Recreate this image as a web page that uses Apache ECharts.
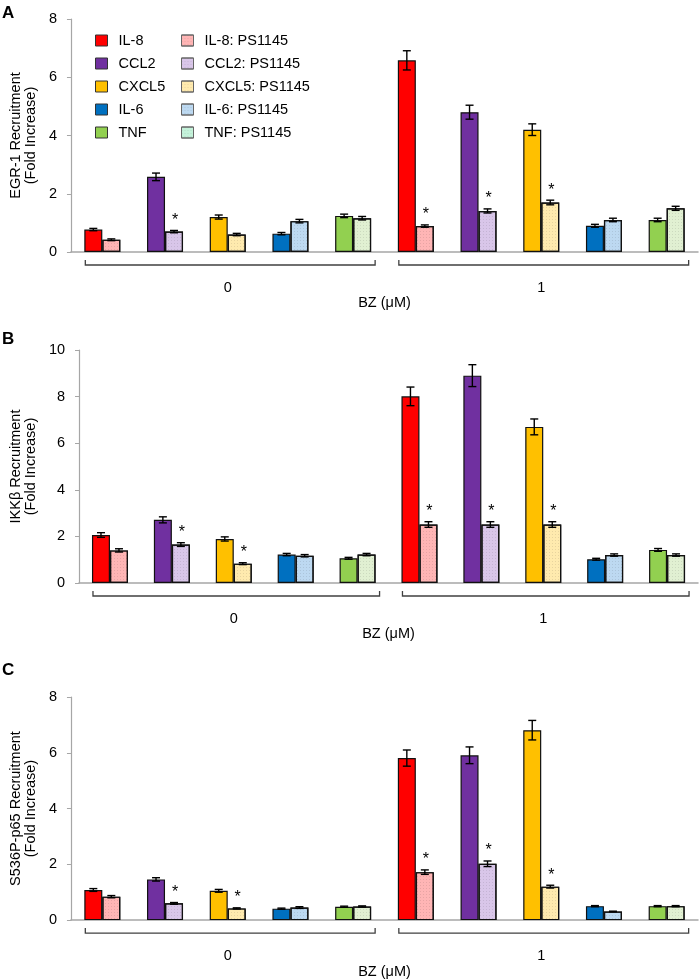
<!DOCTYPE html>
<html><head><meta charset="utf-8">
<script src="https://cdn.jsdelivr.net/npm/echarts@6/dist/echarts.min.js"></script>
<style>html,body{margin:0;padding:0;background:#fff}#c{width:700px;height:980px}</style>
</head><body><div id="c"></div>
<script>
// ---------- data ----------
const genes = ['IL-8', 'CCL2', 'CXCL5', 'IL-6', 'TNF'];
const psNames = ['IL-8: PS1145', 'CCL2: PS1145', 'CXCL5: PS1145', 'IL-6: PS1145', 'TNF: PS1145'];
const doses = ['0', '1'];
const doseAxisName = 'BZ (μM)';
const panelLetters = ['A', 'B', 'C'];
const yTitles = ['EGR-1 Recruitment\n(Fold Increase)', 'IKKβ Recruitment\n(Fold Increase)', 'S536P-p65 Recruitment\n(Fold Increase)'];
const yMax = [8, 10, 8];
const yInterval = [2, 2, 2];

// values ordered: dose 0 (IL-8, CCL2, CXCL5, IL-6, TNF), dose 1 (IL-8, CCL2, CXCL5, IL-6, TNF)
const egr1Ctrl    = [0.77, 2.58, 1.20, 0.63, 1.24, 6.58, 4.80, 4.20, 0.90, 1.10];
const egr1CtrlErr = [0.04, 0.13, 0.07, 0.04, 0.06, 0.33, 0.24, 0.20, 0.05, 0.06];
const egr1PS      = [0.42, 0.70, 0.60, 1.06, 1.16, 0.89, 1.41, 1.70, 1.10, 1.50];
const egr1PSErr   = [0.03, 0.04, 0.04, 0.06, 0.06, 0.04, 0.07, 0.08, 0.06, 0.07];
const egr1Stars   = [1, 5, 6, 7];

const ikkCtrl     = [2.06, 2.71, 1.89, 1.22, 1.06, 8.01, 8.90, 6.70, 1.02, 1.42];
const ikkCtrlErr  = [0.10, 0.13, 0.09, 0.05, 0.04, 0.40, 0.47, 0.34, 0.04, 0.06];
const ikkPS       = [1.40, 1.65, 0.83, 1.17, 1.22, 2.51, 2.51, 2.51, 1.20, 1.20];
const ikkPSErr    = [0.07, 0.08, 0.04, 0.05, 0.05, 0.12, 0.12, 0.12, 0.05, 0.05];
const ikkStars    = [1, 2, 5, 6, 7];

const p65Ctrl     = [1.08, 1.46, 1.05, 0.41, 0.48, 5.81, 5.91, 6.81, 0.50, 0.50];
const p65CtrlErr  = [0.05, 0.06, 0.05, 0.02, 0.02, 0.29, 0.30, 0.35, 0.02, 0.02];
const p65PS       = [0.84, 0.60, 0.42, 0.45, 0.49, 1.72, 2.02, 1.20, 0.31, 0.50];
const p65PSErr    = [0.04, 0.03, 0.02, 0.03, 0.02, 0.08, 0.10, 0.05, 0.01, 0.02];
const p65Stars    = [1, 2, 5, 6, 7];

const panels = [
  { ctrl: egr1Ctrl, ctrlErr: egr1CtrlErr, ps: egr1PS, psErr: egr1PSErr, stars: egr1Stars },
  { ctrl: ikkCtrl,  ctrlErr: ikkCtrlErr,  ps: ikkPS,  psErr: ikkPSErr,  stars: ikkStars },
  { ctrl: p65Ctrl,  ctrlErr: p65CtrlErr,  ps: p65PS,  psErr: p65PSErr,  stars: p65Stars }
];

// ---------- style ----------
const solidColors = ['#FF0000', '#7030A0', '#FFC000', '#0070C0', '#92D050'];
const lightColors = ['#FFB5B5', '#D9C6E9', '#FFEAAE', '#BDD9F1', '#E1F0D2'];
const legendLightColors = ['#FFB5B5', '#D9C6E9', '#FFEAAE', '#BDD9F1', '#C4F2DA'];
const FONT = '"Liberation Sans", Arial, sans-serif';
const BAR_W = 18;
const gridTops = [19, 350, 697];
const GRID_H = 233;

const cats = [];
doses.forEach(d => genes.forEach(g => cats.push(d + '|' + g)));

const decal = { symbol: 'rect', symbolSize: 1, dashArrayX: [1, 2], dashArrayY: [1, 2], color: 'rgba(0,0,0,0.09)' };

function renderErr(params, api) {
  const x = api.value(0), v = api.value(1), e = api.value(2), side = api.value(3), star = api.value(4);
  const c = api.coord([x, v]);
  const hi = api.coord([x, v + e]);
  const lo = api.coord([x, v - e]);
  const px = c[0] + side * BAR_W / 2;
  const cap = 4;
  const st = { stroke: '#000', lineWidth: 1.4 };
  const children = [
    { type: 'line', shape: { x1: px, y1: hi[1], x2: px, y2: lo[1] }, style: st },
    { type: 'line', shape: { x1: px - cap, y1: hi[1], x2: px + cap, y2: hi[1] }, style: st },
    { type: 'line', shape: { x1: px - cap, y1: lo[1], x2: px + cap, y2: lo[1] }, style: st }
  ];
  if (star) {
    children.push({ type: 'text', x: px + 1, y: hi[1] - 2,
      style: { text: '*', fill: '#000', font: '16px ' + FONT, align: 'center', verticalAlign: 'bottom' } });
  }
  return { type: 'group', children };
}

function renderBracket(params, api) {
  const a = api.coord([api.value(0), 0]);
  const b = api.coord([api.value(1), 0]);
  const y = a[1] + 13;
  const x1 = a[0] - 17, x2 = b[0] + 22;
  return { type: 'polyline', shape: { points: [[x1, y - 5], [x1, y], [x2, y], [x2, y - 5]] },
    style: { stroke: '#404040', lineWidth: 1.3, fill: null } };
}

const grid = [], xAxis = [], yAxis = [], series = [], graphic = [];
panels.forEach((p, gi) => {
  grid.push({ left: 70, right: 2, top: gridTops[gi], height: GRID_H });
  xAxis.push({ type: 'category', gridIndex: gi, data: cats, axisLine: { lineStyle: { color: '#a6a6a6', width: 1.5 } },
    axisTick: { show: false }, axisLabel: { show: false } });
  xAxis.push({ type: 'category', gridIndex: gi, data: doses, position: 'bottom', axisLine: { show: false },
    axisTick: { show: false }, axisLabel: { margin: 28, fontSize: 14.5, color: '#000', fontFamily: FONT },
    name: doseAxisName, nameLocation: 'middle', nameGap: 37, nameTextStyle: { fontSize: 14.5, color: '#000', fontFamily: FONT } });
  yAxis.push({ type: 'value', gridIndex: gi, min: 0, max: yMax[gi], interval: yInterval[gi],
    axisLine: { show: true, lineStyle: { color: '#a6a6a6', width: 1.2 } },
    axisTick: { show: true, length: 4, lineStyle: { color: '#a6a6a6' } },
    splitLine: { show: false },
    axisLabel: { fontSize: 14.5, color: '#000', margin: 14, fontFamily: FONT },
    name: yTitles[gi], nameLocation: 'middle', nameGap: 31,
    nameTextStyle: { fontSize: 14.5, color: '#000', lineHeight: 15, fontFamily: FONT } });

  genes.forEach((g, k) => {
    const d = cats.map(() => '-');
    doses.forEach((_, di) => { d[di * 5 + k] = p.ctrl[di * 5 + k]; });
    series.push({ type: 'bar', name: g, xAxisIndex: gi * 2, yAxisIndex: gi, stack: 'ctrl' + gi,
      barWidth: BAR_W, barGap: '0%', data: d,
      itemStyle: { color: solidColors[k], borderColor: '#111', borderWidth: 1.2 } });
  });
  psNames.forEach((g, k) => {
    const d = cats.map(() => '-');
    doses.forEach((_, di) => { d[di * 5 + k] = p.ps[di * 5 + k]; });
    series.push({ type: 'bar', name: g, xAxisIndex: gi * 2, yAxisIndex: gi, stack: 'ps' + gi,
      barWidth: BAR_W, barGap: '0%', data: d,
      itemStyle: { color: lightColors[k], borderColor: '#111', borderWidth: 1.2, decal: decal } });
  });
  const errData = [];
  cats.forEach((c, i) => {
    errData.push([i, p.ctrl[i], p.ctrlErr[i], -1, 0]);
    errData.push([i, p.ps[i], p.psErr[i], 1, p.stars.indexOf(i) >= 0 ? 1 : 0]);
  });
  series.push({ type: 'custom', name: 'err' + gi, xAxisIndex: gi * 2, yAxisIndex: gi, renderItem: renderErr,
    encode: { x: 0, y: 1 }, data: errData, z: 5, silent: true });
  series.push({ type: 'custom', name: 'bracket' + gi, xAxisIndex: gi * 2, yAxisIndex: gi, renderItem: renderBracket,
    encode: { x: [0, 1], y: 2 }, data: [[0, 4, 0], [5, 9, 0]], clip: false, silent: true });
  graphic.push({ type: 'text', left: 2, top: gridTops[gi] - [14, 19, 35][gi],
    style: { text: panelLetters[gi], font: 'bold 17px ' + FONT, fill: '#000' } });
});

const legendCommon = { orient: 'vertical', padding: 0, itemWidth: 12, itemHeight: 11, itemGap: 8, icon: 'rect', selectedMode: false,
  textStyle: { fontSize: 14.5, color: '#000', fontFamily: FONT, padding: [0, 0, 0, 6] } };
const legend = [
  Object.assign({}, legendCommon, { left: 95, top: 33,
    data: genes.map((g, k) => ({ name: g, itemStyle: { color: solidColors[k], borderColor: '#333', borderWidth: 1 } })) }),
  Object.assign({}, legendCommon, { left: 181, top: 33,
    data: psNames.map((g, k) => ({ name: g, itemStyle: { color: legendLightColors[k], borderColor: '#666', borderWidth: 1 } })) })
];

const chart = echarts.init(document.getElementById('c'), null, { renderer: 'canvas' });
chart.setOption({
  animation: false,
  backgroundColor: '#fff',
  textStyle: { fontFamily: FONT },
  grid, xAxis, yAxis, series, legend, graphic
});
</script></body></html>
